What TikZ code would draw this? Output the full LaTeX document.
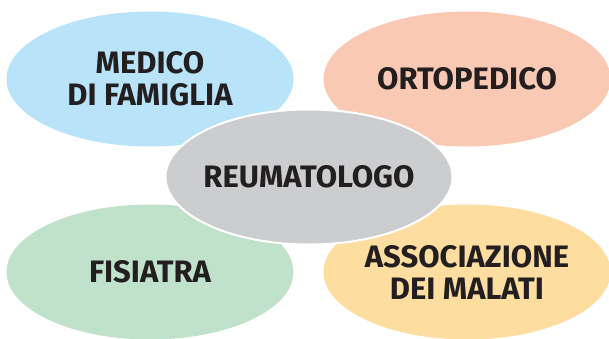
\documentclass[tikz,border=0pt]{standalone}
\usepackage{fontspec}
\usepackage{tikz}
\usetikzlibrary{positioning,shapes.geometric}
\newfontfamily\labelfont{Fira Sans}
\definecolor{blueFill}{HTML}{B8E3F8}
\definecolor{orangeFill}{HTML}{F9C9B4}
\definecolor{greyFill}{HTML}{CCCDCF}
\definecolor{greenFill}{HTML}{C0E2CB}
\definecolor{yellowFill}{HTML}{FDDDA0}
\definecolor{labelText}{HTML}{231F20}
\tikzset {
    style E/.style={
        ellipse, % Set the shape as an ellipse
        minimum width=287pt,
        minimum height=135pt,
        inner xsep=-30pt,
        inner ysep=0pt,
        align=center,
        text=labelText,
        font=\labelfont\bfseries\fontsize{31}{32}\selectfont,
    },
    style G/.style={
        style E,
        fill=greyFill,
        draw=white,
        line width=2pt,
    },
}
\begin{document}
\begin{tikzpicture}[x=1pt, y=1pt]
        \useasboundingbox (0,0) rectangle (609,338);

        \node[style E, fill=blueFill]   at (150,259) (medico) {MEDICO\\DI FAMIGLIA};
        \node[style E, fill=orangeFill] at (467,259) (ortopedico) {ORTOPEDICO};
        \node[style E, fill=greenFill]  at (150,66) (fisiatra) {FISIATRA};
        \node[style E, fill=yellowFill] at (467,66) (associazione) {ASSOCIAZIONE\\DEI MALATI};

        \node[style G] at (309,161) (reumatologo) {REUMATOLOGO};
    \end{tikzpicture}
\end{document}
